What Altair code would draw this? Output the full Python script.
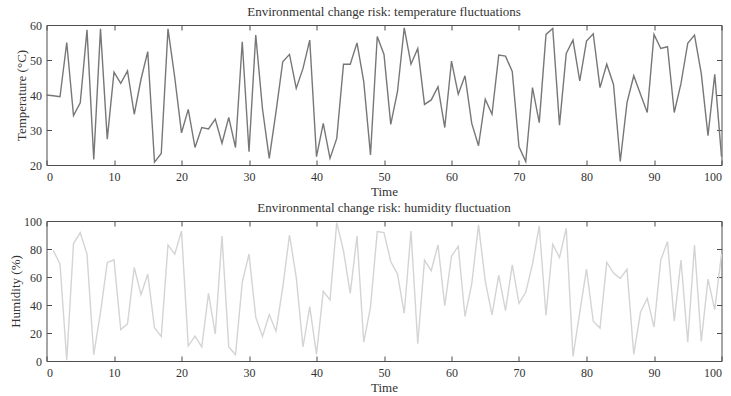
import altair as alt
import pandas as pd

# ---- data ----
time_temp = list(range(0, 101))
temperature = [40, 39.8, 39.5, 55, 34.1, 37.8, 58.6, 21.6, 58.9, 27.4,
               46.5, 43.3, 46.9, 34.5, 44.5, 52.4, 20.8, 23.3, 58.9, 45,
               29.2, 35.9, 25, 30.7, 30.3, 33.1, 26.2, 33.6, 25, 55.2,
               23.8, 57.1, 36, 21.9, 35.2, 49.5, 51.6, 41.9, 47.6, 55.7,
               22.4, 31.9, 21.9, 27.6, 48.8, 48.8, 54.9, 43.8, 22.9, 56.7,
               51.6, 31.6, 41, 59.2, 48.8, 53.3, 37.3, 38.6, 42.4, 30.7,
               49.7, 40.2, 45.5, 31.9, 25.5, 38.8, 34.5, 51.4, 51.1, 46.7,
               25.2, 21, 42.1, 32.1, 57.3, 59, 31.4, 51.9, 55.7, 44,
               55.4, 57.5, 42.1, 48.8, 43, 21, 37.8, 45.5, 40.2, 35,
               57.3, 53.3, 53.8, 35, 43.3, 54.8, 57.1, 46.2, 28.4, 45.9,
               22.4]

time_hum = list(range(1, 101))
humidity = [79.1, 69.2, 0.5, 83.9, 91.7, 76.3, 4.5, 34.8, 70.4, 72.3,
            22.5, 26.5, 66.8, 47.4, 62.1, 23.7, 17.5, 82.9, 76.3, 92.9,
            10.7, 17.8, 10, 48.3, 19.4, 89.3, 10, 4.5, 56.2, 76.3,
            31.3, 17.5, 33.2, 21.3, 52.6, 90, 59.7, 10, 38.9, 4.7,
            49.8, 43.6, 98.8, 78.7, 48.3, 89.3, 13.5, 38.4, 92.4, 91.7,
            71.1, 62.1, 34.1, 92.9, 12.3, 72, 64.5, 82.9, 39.6, 74.8,
            82, 31.8, 55, 97.2, 57.3, 32.9, 61.4, 36, 68.7, 41.2,
            49.1, 69.2, 96.4, 32.5, 83.4, 73.9, 94.8, 3.3, 34.8, 65.6,
            28.4, 23.5, 70.4, 62.8, 59, 65.6, 4.7, 34.8, 44.8, 24.2,
            72, 85.3, 28.4, 72, 13.5, 82.9, 14, 58.5, 36.7, 76.3]

x_ticks = [0, 10, 20, 30, 40, 50, 60, 70, 80, 90, 100]
temp_ticks = [20, 30, 40, 50, 60]
hum_ticks = [0, 20, 40, 60, 80, 100]

FONT = "Liberation Serif"
FRAME = "#4d4d4d"
TXT = "#333333"


def panel(df, ycol, ytitle, ydomain, yticks, title, color):
    xs = alt.Scale(domain=[0, 100], nice=False, zero=False)
    ysc = alt.Scale(domain=ydomain, nice=False, zero=False)
    tick_common = dict(offset=-5, tickSize=5, domain=False, grid=False,
                       tickColor=FRAME, tickWidth=1)
    main = alt.Chart(df).mark_line(color=color, strokeWidth=1.4).encode(
        x=alt.X("Time:Q", scale=xs,
                axis=alt.Axis(values=x_ticks, orient="bottom", title="Time",
                              labelPadding=6, titlePadding=3, **tick_common)),
        y=alt.Y(f"{ycol}:Q", scale=ysc,
                axis=alt.Axis(values=yticks, orient="left", title=ytitle,
                              labelPadding=5, titlePadding=1, **tick_common)),
    )
    mirror = alt.Chart(df).mark_line(opacity=0).encode(
        x=alt.X("Time:Q", scale=xs,
                axis=alt.Axis(values=x_ticks, orient="top", title=None,
                              labels=False, **tick_common)),
        y=alt.Y(f"{ycol}:Q", scale=ysc,
                axis=alt.Axis(values=yticks, orient="right", title=None,
                              labels=False, **tick_common)),
    )
    return alt.layer(main, mirror).resolve_axis(
        x="independent", y="independent"
    ).properties(
        width=675, height=140,
        title=alt.TitleParams(title, fontSize=13, font=FONT, color=TXT,
                              fontWeight="normal", offset=0, anchor="middle"),
    )


df_t = pd.DataFrame({"Time": time_temp, "Temperature": temperature})
df_h = pd.DataFrame({"Time": time_hum, "Humidity": humidity})

top = panel(df_t, "Temperature", "Temperature (°C)", [20, 60], temp_ticks,
            "Environmental change risk: temperature fluctuations", "#777777")
bottom = panel(df_h, "Humidity", "Humidity (%)", [0, 100], hum_ticks,
               "Environmental change risk: humidity fluctuation", "#d4d4d4")

chart = alt.vconcat(top, bottom, spacing=56, bounds="flush").properties(
    padding={"left": 8.5, "right": 4.5, "top": 5, "bottom": 0},
    background="white",
).configure_view(
    stroke=FRAME, strokeWidth=1
).configure_axis(
    labelFont=FONT, titleFont=FONT, labelFontSize=12, titleFontSize=13,
    labelColor=TXT, titleColor=TXT, titleFontWeight="normal",
)

chart.save("out.html", embed_options={"renderer": "svg", "actions": False})
